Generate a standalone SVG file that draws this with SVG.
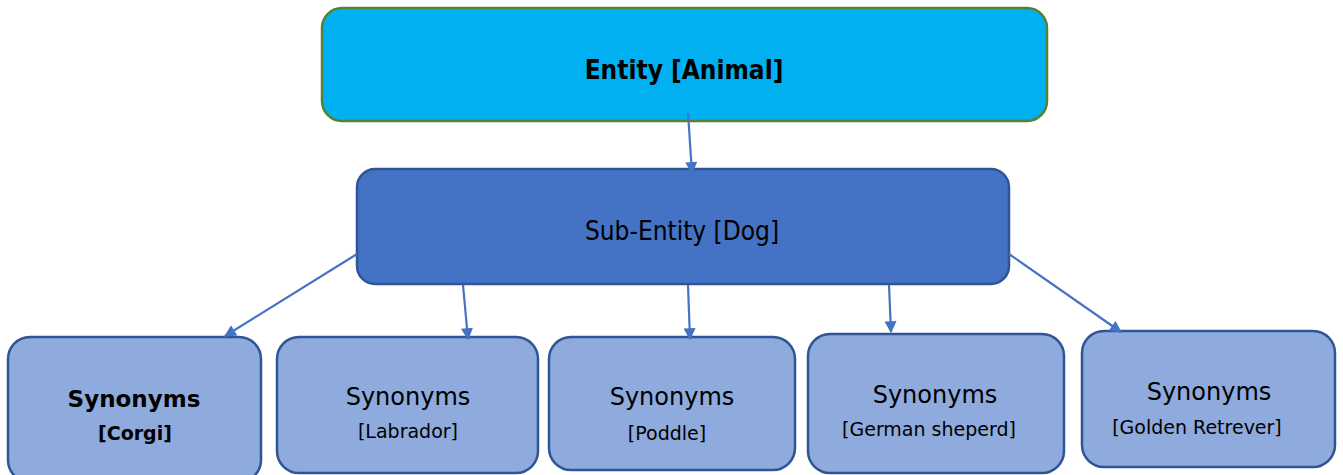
<svg xmlns="http://www.w3.org/2000/svg" width="1343" height="475" viewBox="0 0 1343 475">
  <defs>
    <marker id="arrow" viewBox="0 0 10 10" refX="9" refY="5" markerWidth="14" markerHeight="12" markerUnits="userSpaceOnUse" orient="auto">
      <path d="M0,0 L10,5 L0,10 z" fill="#4472C4"/>
    </marker>
    <style>
      .top { fill: #00B0F0; stroke: #548235; stroke-width: 2.5; }
      .sub { fill: #4472C4; stroke: #2F5597; stroke-width: 2.5; }
      .leaf { fill: #8FAADC; stroke: #2F5597; stroke-width: 2.5; }
      .conn { stroke: #4472C4; stroke-width: 2.2; fill: none; marker-end: url(#arrow); }
      .t1 { font-family: "DejaVu Sans Condensed", "DejaVu Sans", sans-serif; font-weight: bold; font-size: 26px; fill: #000; text-anchor: middle; }
      .t2 { font-family: "DejaVu Sans Condensed", "DejaVu Sans", sans-serif; font-size: 26px; fill: #000; text-anchor: middle; }
      .syn { font-family: "DejaVu Sans", sans-serif; font-size: 24px; fill: #000; text-anchor: middle; }
      .name { font-family: "DejaVu Sans", sans-serif; font-size: 19px; fill: #000; text-anchor: middle; }
      .b { font-weight: bold; }
      .sb { font-weight: 600; font-size: 23px; }
    </style>
  </defs>

  <rect width="1343" height="475" fill="#FFFFFF"/>

  <g id="entity">
    <rect class="top" x="322" y="8" width="725" height="113" rx="20"/>
    <text class="t1" x="684" y="79">Entity [Animal]</text>
  </g>

  <g id="sub-entity">
    <rect class="sub" x="357" y="169" width="652" height="115" rx="18"/>
    <text class="t2" x="682" y="240">Sub-Entity [Dog]</text>
  </g>

  <g id="corgi">
    <rect class="leaf" x="8" y="337" width="253" height="145" rx="22"/>
    <text class="syn sb" x="134" y="407">Synonyms</text>
    <text class="name b" x="135" y="440">[Corgi]</text>
  </g>

  <g id="labrador">
    <rect class="leaf" x="277" y="337" width="261" height="136" rx="22"/>
    <text class="syn" x="408" y="405">Synonyms</text>
    <text class="name" x="408" y="438">[Labrador]</text>
  </g>

  <g id="poddle">
    <rect class="leaf" x="549" y="337" width="246" height="133" rx="22"/>
    <text class="syn" x="672" y="405">Synonyms</text>
    <text class="name" x="667" y="440">[Poddle]</text>
  </g>

  <g id="german-sheperd">
    <rect class="leaf" x="808" y="334" width="256" height="139" rx="22"/>
    <text class="syn" x="935" y="403">Synonyms</text>
    <text class="name" x="929" y="436">[German sheperd]</text>
  </g>

  <g id="golden-retrever">
    <rect class="leaf" x="1082" y="331" width="253" height="136" rx="22"/>
    <text class="syn" x="1209" y="400">Synonyms</text>
    <text class="name" x="1197" y="434">[Golden Retrever]</text>
  </g>

  <!-- connectors sit above the boxes so the arrowheads overlap the borders -->
  <g id="connectors">
    <line class="conn" x1="688" y1="113" x2="692" y2="173"/>
    <line class="conn" x1="357" y1="254" x2="225" y2="336"/>
    <line class="conn" x1="463" y1="285" x2="468" y2="339"/>
    <line class="conn" x1="688" y1="285" x2="690" y2="339"/>
    <line class="conn" x1="889" y1="285" x2="891" y2="332"/>
    <line class="conn" x1="1009" y1="254" x2="1121" y2="332"/>
  </g>
</svg>
